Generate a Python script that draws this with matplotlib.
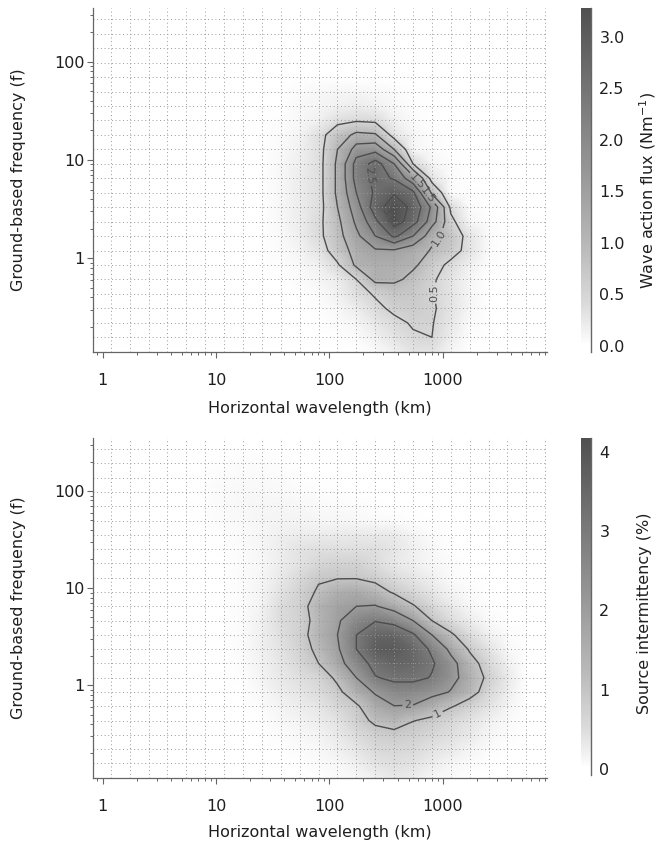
import numpy as np
import matplotlib
matplotlib.use('Agg')
import matplotlib.pyplot as plt
from matplotlib.colors import LinearSegmentedColormap, Normalize
from matplotlib.cm import ScalarMappable
from matplotlib.ticker import FixedLocator, FixedFormatter, NullFormatter

# ---------------- data (values at grid nodes) -------------
# top panel: wave action flux (N m^-1); block starts at node column 9, node row 5
flux_col0 = 9
flux_row0 = 5
flux_block = [
    [0.00, 0.05, 0.08, 0.10, 0.10, 0.08, 0.05, 0.00, 0.00, 0.00, 0.00, 0.00],
    [0.00, 0.08, 0.10, 0.15, 0.20, 0.15, 0.08, 0.03, 0.00, 0.00, 0.00, 0.00],
    [0.03, 0.08, 0.15, 0.35, 0.45, 0.40, 0.15, 0.05, 0.00, 0.00, 0.00, 0.00],
    [0.05, 0.12, 0.35, 0.80, 1.10, 1.05, 0.30, 0.10, 0.03, 0.00, 0.00, 0.00],
    [0.06, 0.15, 0.35, 1.00, 1.70, 1.80, 1.00, 0.10, 0.05, 0.00, 0.00, 0.00],
    [0.08, 0.18, 0.35, 1.10, 2.20, 2.70, 2.00, 0.50, 0.10, 0.03, 0.00, 0.00],
    [0.08, 0.20, 0.35, 1.10, 2.20, 2.65, 2.45, 1.60, 0.30, 0.05, 0.00, 0.00],
    [0.08, 0.20, 0.35, 1.10, 2.00, 2.60, 2.95, 2.60, 0.90, 0.05, 0.02, 0.00],
    [0.08, 0.20, 0.35, 1.00, 1.80, 2.80, 3.30, 2.85, 1.90, 0.40, 0.05, 0.00],
    [0.08, 0.20, 0.40, 0.90, 1.60, 2.40, 3.25, 2.70, 1.70, 0.60, 0.10, 0.03],
    [0.06, 0.18, 0.40, 0.85, 1.40, 2.00, 2.60, 2.00, 1.15, 0.80, 0.30, 0.05],
    [0.05, 0.12, 0.30, 0.75, 1.20, 1.45, 1.45, 1.25, 0.95, 0.70, 0.30, 0.05],
    [0.03, 0.08, 0.15, 0.45, 1.10, 1.20, 1.20, 1.10, 0.65, 0.40, 0.15, 0.03],
    [0.00, 0.05, 0.10, 0.20, 0.50, 1.15, 1.10, 0.85, 0.55, 0.30, 0.10, 0.00],
    [0.00, 0.00, 0.05, 0.15, 0.35, 0.55, 0.75, 0.70, 0.52, 0.30, 0.10, 0.00],
    [0.00, 0.00, 0.03, 0.08, 0.20, 0.40, 0.60, 0.65, 0.55, 0.30, 0.10, 0.00],
    [0.00, 0.00, 0.00, 0.05, 0.10, 0.25, 0.40, 0.55, 0.52, 0.25, 0.05, 0.00],
    [0.00, 0.00, 0.00, 0.00, 0.05, 0.15, 0.30, 0.45, 0.50, 0.20, 0.03, 0.00],
    [0.00, 0.00, 0.00, 0.00, 0.00, 0.05, 0.15, 0.30, 0.30, 0.10, 0.00, 0.00],
]

# bottom panel: source intermittency (%); block starts at node column 4, node row 1
src_col0 = 4
src_row0 = 1
src_block = [
    [0, 0, 0.03, 0.05, 0.05, 0.03, 0, 0, 0, 0, 0, 0, 0, 0, 0, 0, 0, 0],
    [0, 0.03, 0.06, 0.08, 0.08, 0.06, 0.03, 0, 0, 0, 0, 0, 0, 0, 0, 0, 0, 0],
    [0, 0.04, 0.07, 0.10, 0.11, 0.09, 0.06, 0.04, 0.03, 0, 0, 0, 0, 0, 0, 0, 0, 0],
    [0, 0.03, 0.07, 0.10, 0.12, 0.12, 0.10, 0.08, 0.07, 0.05, 0.03, 0, 0, 0, 0, 0, 0, 0],
    [0, 0.02, 0.05, 0.09, 0.12, 0.15, 0.15, 0.13, 0.12, 0.10, 0.08, 0.05, 0.03, 0, 0, 0, 0, 0],
    [0, 0, 0.03, 0.07, 0.12, 0.20, 0.25, 0.27, 0.28, 0.30, 0.30, 0.28, 0.15, 0.05, 0, 0, 0, 0],
    [0, 0, 0.02, 0.05, 0.12, 0.25, 0.40, 0.45, 0.45, 0.45, 0.45, 0.35, 0.20, 0.10, 0.03, 0, 0, 0],
    [0, 0, 0, 0.05, 0.10, 0.25, 0.40, 0.60, 0.70, 0.70, 0.50, 0.30, 0.20, 0.10, 0.05, 0, 0, 0],
    [0, 0, 0, 0.05, 0.12, 0.30, 0.55, 0.90, 0.95, 0.95, 0.80, 0.50, 0.35, 0.20, 0.08, 0.03, 0, 0],
    [0, 0, 0, 0.05, 0.15, 0.40, 0.70, 1.10, 1.50, 1.60, 1.30, 0.90, 0.60, 0.35, 0.15, 0.05, 0, 0],
    [0, 0, 0, 0.05, 0.18, 0.50, 0.75, 1.40, 1.80, 2.00, 2.05, 1.60, 1.05, 0.60, 0.30, 0.10, 0.03, 0],
    [0, 0, 0, 0.05, 0.20, 0.50, 0.70, 1.30, 1.90, 2.60, 2.95, 2.70, 2.00, 1.00, 0.50, 0.25, 0.08, 0],
    [0, 0, 0, 0.05, 0.20, 0.45, 0.75, 1.40, 2.00, 3.00, 3.60, 3.60, 3.10, 2.00, 1.10, 0.50, 0.20, 0.05],
    [0, 0, 0, 0.05, 0.20, 0.40, 0.70, 1.20, 1.90, 3.00, 3.80, 3.90, 3.50, 2.85, 1.75, 0.90, 0.40, 0.10],
    [0, 0, 0, 0.05, 0.18, 0.35, 0.60, 1.00, 1.70, 2.60, 3.30, 3.60, 3.50, 3.10, 2.30, 1.30, 0.60, 0.20],
    [0, 0, 0, 0.03, 0.15, 0.30, 0.45, 0.65, 1.15, 2.00, 2.95, 3.20, 3.20, 2.95, 2.30, 1.50, 0.80, 0.30],
    [0, 0, 0, 0, 0.10, 0.25, 0.35, 0.50, 0.85, 1.50, 2.10, 2.60, 2.60, 2.30, 1.95, 1.30, 0.60, 0.25],
    [0, 0, 0, 0, 0.05, 0.15, 0.25, 0.35, 0.60, 0.90, 1.60, 1.98, 1.95, 1.50, 1.05, 0.70, 0.40, 0.15],
    [0, 0, 0, 0, 0.03, 0.10, 0.15, 0.25, 0.40, 0.75, 1.15, 1.30, 1.02, 0.85, 0.60, 0.40, 0.20, 0.08],
    [0, 0, 0, 0, 0, 0.05, 0.10, 0.15, 0.30, 0.50, 0.75, 0.85, 0.75, 0.60, 0.45, 0.30, 0.12, 0.05],
    [0, 0, 0, 0, 0, 0, 0.05, 0.10, 0.20, 0.35, 0.55, 0.60, 0.55, 0.40, 0.30, 0.15, 0.05, 0],
    [0, 0, 0, 0, 0, 0, 0, 0.05, 0.10, 0.20, 0.40, 0.45, 0.40, 0.25, 0.12, 0.05, 0, 0],
    [0, 0, 0, 0, 0, 0, 0, 0, 0.05, 0.10, 0.20, 0.30, 0.25, 0.10, 0.05, 0, 0, 0],
]

x_ticks = [1, 10, 100, 1000]
x_ticklabels = ['1', '10', '100', '1000']
y_ticks = [1, 10, 100]
y_ticklabels = ['1', '10', '100']
flux_levels = [0.5, 1.0, 1.5, 2.0, 2.5, 3.0]
src_levels = [1, 2, 3]
flux_cbar_ticks = [0.0, 0.5, 1.0, 1.5, 2.0, 2.5, 3.0]
flux_cbar_labels = ['0.0', '0.5', '1.0', '1.5', '2.0', '2.5', '3.0']
src_cbar_ticks = [0, 1, 2, 3, 4]
src_cbar_labels = ['0', '1', '2', '3', '4']
xlabel = 'Horizontal wavelength (km)'
ylabel = 'Ground-based frequency (f)'
flux_label = 'Wave action flux (Nm$^{-1}$)'
src_label = 'Source intermittency (%)'
# where the contour labels sit (wavelength km, frequency f)
flux_label_pos = [(824, 0.44), (894, 1.65), (745, 4.4), (575, 5.9), (262, 7.0), (382, 2.9)]
src_label_pos = [(867, 0.55), (488, 0.70)]

# ---------------- grid of nodes (log-spaced) -------------
node_cols = np.arange(-1, 25)
node_rows = np.arange(-1, 24)
xs = 10 ** (0.0715 + node_cols / 6.0)
ys = 10 ** (2.431 - node_rows * 0.147)
XX, YY = np.meshgrid(xs, ys)


def embed(block, r0, c0):
    Z = np.zeros((len(node_rows), len(node_cols)))
    b = np.array(block, dtype=float)
    Z[r0 + 1:r0 + 1 + b.shape[0], c0 + 1:c0 + 1 + b.shape[1]] = b
    return Z


Z_flux = embed(flux_block, flux_row0, flux_col0)
Z_src = embed(src_block, src_row0, src_col0)

cmap = LinearSegmentedColormap.from_list(
    'g', [(0.0, (1, 1, 1)), (0.04, (0.95, 0.95, 0.95)), (0.12, (0.86, 0.86, 0.86)),
          (0.3, (0.72, 0.72, 0.72)), (0.5, (0.60, 0.60, 0.60)),
          (0.75, (0.46, 0.46, 0.46)), (1.0, (0.31, 0.31, 0.31))])

W, H = 669, 847
fig = plt.figure(figsize=(W / 100, H / 100), dpi=100)

XMIN, XMAX = 10 ** -0.085, 10 ** 3.92
YMIN, YMAX = 10 ** -0.953, 10 ** 2.546
FS = 11.5
INK = '0.12'


def panel(top_px, bot_px, Z, vmax, levels, fmt, label_pos, cb_top, cb_bot, cb_lim,
          cb_ticks, cb_labels, cb_label, cb_label_y, xlab_off):
    hpx = bot_px - top_px
    ax = fig.add_axes([93 / W, 1 - bot_px / H, 454 / W, hpx / H])
    norm = Normalize(0, vmax)
    ax.pcolormesh(XX, YY, Z, shading='gouraud', cmap=cmap, norm=norm, zorder=1)
    ax.set_xscale('log')
    ax.set_yscale('log')
    ax.set_xlim(XMIN, XMAX)
    ax.set_ylim(YMIN, YMAX)
    # dotted grid through the nodes
    for x in xs[1:-1]:
        ax.axvline(x, color='0.6', lw=0.7, ls=(0, (1, 2.8)), zorder=2)
    for y in ys[1:-1]:
        ax.axhline(y, color='0.6', lw=0.7, ls=(0, (1, 2.8)), zorder=2)
    cs = ax.contour(XX, YY, Z, levels=levels, colors='0.3', linewidths=1.0, zorder=3)
    ax.clabel(cs, fmt=fmt, fontsize=8, colors='0.3', inline=True, inline_spacing=2,
              manual=label_pos)
    for s in ['top', 'right']:
        ax.spines[s].set_visible(False)
    for s in ['left', 'bottom']:
        ax.spines[s].set_color('0.4')
        ax.spines[s].set_linewidth(0.9)
    ax.xaxis.set_major_locator(FixedLocator(x_ticks))
    ax.xaxis.set_major_formatter(FixedFormatter(x_ticklabels))
    ax.yaxis.set_major_locator(FixedLocator(y_ticks))
    ax.yaxis.set_major_formatter(FixedFormatter(y_ticklabels))
    ax.xaxis.set_minor_formatter(NullFormatter())
    ax.yaxis.set_minor_formatter(NullFormatter())
    ax.tick_params(which='major', length=4, width=0.8, color='0.4', labelsize=FS, labelcolor=INK)
    ax.tick_params(axis='x', which='major', pad=11)
    ax.tick_params(axis='y', which='major', pad=2)
    ax.tick_params(which='minor', length=2.5, width=0.7, color='0.4')
    ax.set_xlabel(xlabel, fontsize=FS, color=INK)
    ax.set_ylabel(ylabel, fontsize=FS, color=INK)
    ax.xaxis.set_label_coords(0.5, -xlab_off / hpx)
    ax.yaxis.set_label_coords(-(93 - 26) / 454, 0.5)

    cax = fig.add_axes([581 / W, 1 - cb_bot / H, 10 / W, (cb_bot - cb_top) / H])
    sm = ScalarMappable(norm=norm, cmap=cmap)
    cb = fig.colorbar(sm, cax=cax)
    cax.set_ylim(*cb_lim)
    cb.outline.set_visible(False)
    cax.plot([1, 1], [0, 1], transform=cax.transAxes, color='0.4', lw=1.0, clip_on=False)
    cb.set_ticks(cb_ticks)
    cb.set_ticklabels(cb_labels)
    cax.tick_params(length=0, pad=6, labelsize=FS, labelcolor=INK)
    cb.set_label(cb_label, fontsize=FS, color=INK)
    cax.yaxis.set_label_coords((637 - 581) / 10, cb_label_y)
    return ax


ax1 = panel(8, 352, Z_flux, 3.3, flux_levels, '%.1f', flux_label_pos, 8, 352, (-0.06, 3.28),
            flux_cbar_ticks, flux_cbar_labels, flux_label, 0.47, 49)
ax2 = panel(438, 778, Z_src, 4.2, src_levels, '%d', src_label_pos, 438, 775, (-0.08, 4.18),
            src_cbar_ticks, src_cbar_labels, src_label, 0.48, 47)

fig.savefig('out.png', dpi=100)
